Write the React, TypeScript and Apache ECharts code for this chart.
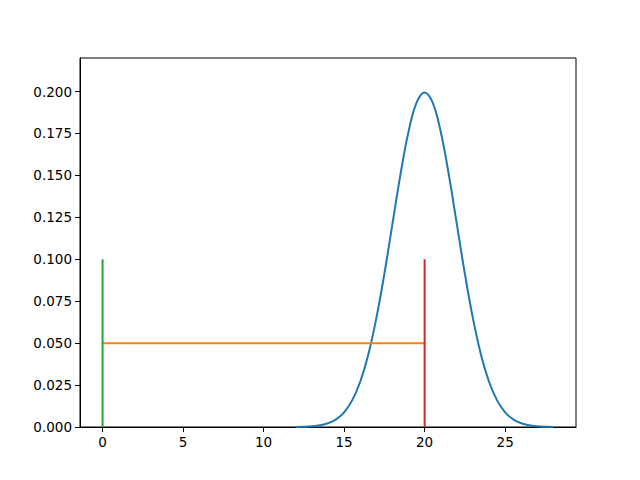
import React, { useEffect, useRef } from "react";
import * as echarts from "echarts";

// Normal density curve, x from 12 to 28
const curveX = [
  12, 12.5, 13, 13.5, 14, 14.5, 15, 15.5, 16, 16.5, 17, 17.5, 18, 18.5, 19, 19.5,
  20, 20.5, 21, 21.5, 22, 22.5, 23, 23.5, 24, 24.5, 25, 25.5, 26, 26.5, 27, 27.5, 28,
];
const curveY = [
  0.00007, 0.00018, 0.00044, 0.00101, 0.00222, 0.00455, 0.00876, 0.01587, 0.027,
  0.04314, 0.06476, 0.09132, 0.12099, 0.15057, 0.17603, 0.19333, 0.19947, 0.19333,
  0.17603, 0.15057, 0.12099, 0.09132, 0.06476, 0.04314, 0.027, 0.01587, 0.00876,
  0.00455, 0.00222, 0.00101, 0.00044, 0.00018, 0.00007,
];
// Horizontal line
const hLineX = [0, 20];
const hLineY = 0.05;
// Vertical lines
const vLine1X = 0;
const vLine2X = 20;
const vLineY = [0, 0.1];

const xTicks = [0, 5, 10, 15, 20, 25];
const yTicks = [0, 0.025, 0.05, 0.075, 0.1, 0.125, 0.15, 0.175, 0.2];

export default function App() {
  const ref = useRef<HTMLDivElement>(null);
  useEffect(() => {
    if (!ref.current) return;
    const chart = echarts.init(ref.current, undefined, { renderer: "svg" });
    const font = "DejaVu Sans";
    chart.setOption({
      animation: false,
      backgroundColor: "#ffffff",
      grid: {
        left: 80,
        right: 64,
        top: 58,
        bottom: 53,
        show: true,
        borderColor: "#000000",
        borderWidth: 1,
        backgroundColor: "transparent",
      },
      xAxis: {
        type: "value",
        min: -1.4,
        max: 29.4,
        splitLine: { show: false },
        axisLine: { show: true, onZero: false, lineStyle: { color: "#000", width: 1 } },
        axisTick: { show: true, length: 5, lineStyle: { color: "#000" }, customValues: xTicks },
        axisLabel: {
          customValues: xTicks,
          color: "#000",
          fontFamily: font,
          fontSize: 13.5,
          margin: 8,
          formatter: (v: number) => String(v),
        },
      },
      yAxis: {
        type: "value",
        min: 0,
        max: 0.22,
        splitLine: { show: false },
        axisLine: { show: true, onZero: false, lineStyle: { color: "#000", width: 1 } },
        axisTick: { show: true, length: 5, lineStyle: { color: "#000" }, customValues: yTicks },
        axisLabel: {
          customValues: yTicks,
          color: "#000",
          fontFamily: font,
          fontSize: 13.5,
          margin: 8,
          formatter: (v: number) => v.toFixed(3),
        },
      },
      series: [
        {
          type: "line",
          data: curveX.map((x, i) => [x, curveY[i]]),
          showSymbol: false,
          smooth: 0.4,
          lineStyle: { color: "#1f77b4", width: 2 },
          itemStyle: { color: "#1f77b4" },
        },
        {
          type: "line",
          data: hLineX.map((x) => [x, hLineY]),
          showSymbol: false,
          lineStyle: { color: "#ff7f0e", width: 2 },
          itemStyle: { color: "#ff7f0e" },
        },
        {
          type: "line",
          data: vLineY.map((y) => [vLine1X, y]),
          showSymbol: false,
          lineStyle: { color: "#2ca02c", width: 2 },
          itemStyle: { color: "#2ca02c" },
        },
        {
          type: "line",
          data: vLineY.map((y) => [vLine2X, y]),
          showSymbol: false,
          lineStyle: { color: "#d62728", width: 2 },
          itemStyle: { color: "#d62728" },
        },
      ],
    });
    return () => chart.dispose();
  }, []);
  return (
    <div
      ref={ref}
      style={{ position: "fixed", left: 0, top: 0, width: 640, height: 480 }}
    />
  );
}
